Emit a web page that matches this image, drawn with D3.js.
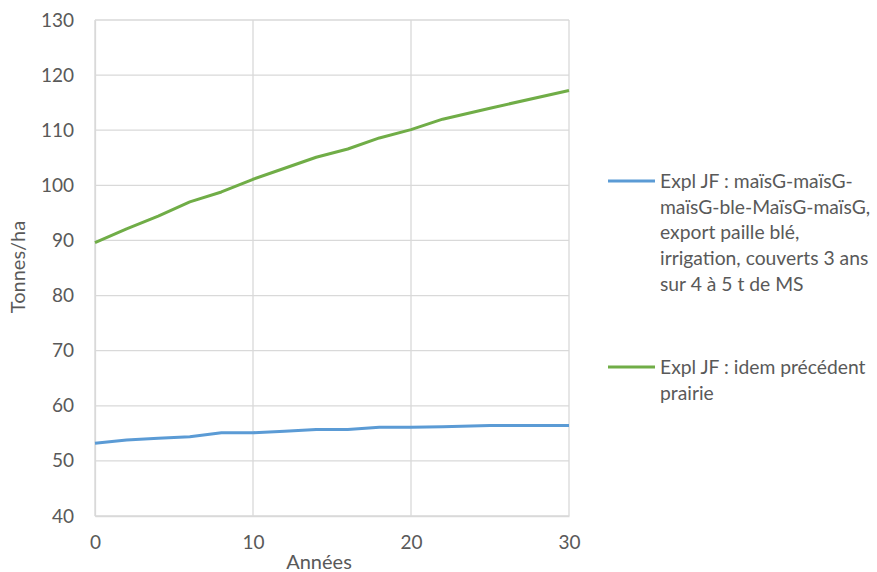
<!DOCTYPE html>
<html>
<head>
<meta charset="utf-8">
<script src="https://cdn.jsdelivr.net/npm/d3@7"></script>
<style>
  html, body { margin: 0; padding: 0; background: #fff; }
  svg { display: block; font-family: Lato, "Open Sans", sans-serif; }
</style>
</head>
<body>
<div id="chart"></div>
<script>
const years = [0, 2, 4, 6, 8, 10, 12, 14, 16, 18, 20, 22, 25, 30];
const blueValues = [53.2, 53.8, 54.1, 54.4, 55.1, 55.1, 55.4, 55.7, 55.7, 56.1, 56.1, 56.2, 56.4, 56.4];
const greenValues = [89.6, 92.1, 94.4, 97.0, 98.8, 101.1, 103.1, 105.1, 106.6, 108.6, 110.1, 112.0, 114.0, 117.2];
const xTicks = [0, 10, 20, 30];
const yTicks = [40, 50, 60, 70, 80, 90, 100, 110, 120, 130];
const seriesNames = [
  ['Expl JF : maïsG-maïsG-', 'maïsG-ble-MaïsG-maïsG,', 'export paille blé,', 'irrigation, couverts 3 ans', 'sur 4 à 5 t de MS'],
  ['Expl JF : idem précédent', 'prairie']
];
const seriesColors = ['#5B9BD5', '#70AD47'];

const series = [blueValues, greenValues].map((vals, i) => ({
  name: seriesNames[i],
  color: seriesColors[i],
  points: years.map((yr, j) => ({ year: yr, v: vals[j] }))
}));

const width = 877, height = 572;
const plot = { left: 95, top: 20, right: 569, bottom: 516 };
const textColor = '#595959';
const gridColor = '#D9D9D9';

const svg = d3.select('#chart').append('svg')
  .attr('width', width).attr('height', height);

const x = d3.scaleLinear().domain([0, 30]).range([plot.left, plot.right]);
const y = d3.scaleLinear().domain([40, 130]).range([plot.bottom, plot.top]);

// Grid
svg.append('g')
  .selectAll('line.hg').data(yTicks).enter().append('line')
  .attr('x1', plot.left).attr('x2', plot.right)
  .attr('y1', (d) => y(d)).attr('y2', (d) => y(d))
  .attr('stroke', gridColor).attr('stroke-width', 1.3);
svg.append('g')
  .selectAll('line.vg').data(xTicks).enter().append('line')
  .attr('y1', plot.top).attr('y2', plot.bottom)
  .attr('x1', (d) => x(d)).attr('x2', (d) => x(d))
  .attr('stroke', gridColor).attr('stroke-width', 1.3);

// Axes
const yAxis = svg.append('g').attr('transform', `translate(${plot.left},0)`)
  .call(d3.axisLeft(y).tickValues(yTicks).tickSize(0).tickPadding(21));
const xAxis = svg.append('g').attr('transform', `translate(0,${plot.bottom})`)
  .call(d3.axisBottom(x).tickValues(xTicks).tickSize(0).tickPadding(20));
[yAxis, xAxis].forEach((a) => {
  a.select('.domain').attr('stroke', gridColor).attr('stroke-width', 1.3);
  a.selectAll('text').attr('fill', textColor).style('font-size', '19px')
    .style('font-family', 'Lato, "Open Sans", sans-serif');
});

svg.append('text')
  .attr('transform', 'rotate(-90)')
  .attr('x', -267).attr('y', 25)
  .attr('text-anchor', 'middle')
  .attr('fill', textColor).style('font-size', '20px')
  .text('Tonnes/ha');
svg.append('text')
  .attr('x', 319).attr('y', 569)
  .attr('text-anchor', 'middle')
  .attr('fill', textColor).style('font-size', '20px')
  .text('Années');

// Lines
const line = d3.line().x((p) => x(p.year)).y((p) => y(p.v));
svg.selectAll('path.series').data(series).enter().append('path')
  .attr('class', 'series')
  .attr('fill', 'none')
  .attr('stroke', (d) => d.color)
  .attr('stroke-width', 3)
  .attr('stroke-linejoin', 'round')
  .attr('d', (d) => line(d.points));

// Legend
const legendY = [181, 367];
const lineH = 25.8;
series.forEach((s, i) => {
  const g = svg.append('g').attr('transform', `translate(608,${legendY[i]})`);
  g.append('line').attr('x1', 0).attr('x2', 47).attr('y1', 0).attr('y2', 0)
    .attr('stroke', s.color).attr('stroke-width', 3);
  const t = g.append('text').attr('fill', textColor).style('font-size', '19.3px');
  s.name.forEach((ln, k) => {
    t.append('tspan').attr('x', 52).attr('y', k * lineH).attr('dy', '0.35em').text(ln);
  });
});
</script>
</body>
</html>
